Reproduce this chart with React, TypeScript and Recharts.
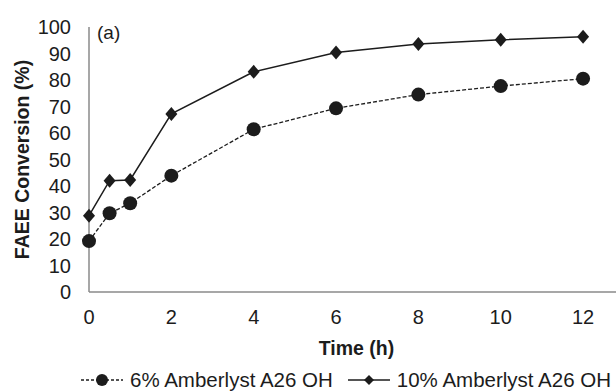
import { LineChart, Line, XAxis, YAxis, Legend, Customized } from "recharts";

const times = [0, 0.5, 1, 2, 4, 6, 8, 10, 12];
const amberlyst6 = [19.2, 29.7, 33.5, 43.9, 61.4, 69.3, 74.5, 77.7, 80.5];
const amberlyst10 = [28.8, 42, 42.3, 67.2, 83.1, 90.4, 93.6, 95.2, 96.3];
const xTicks = [0, 2, 4, 6, 8, 10, 12];
const yTicks = [0, 10, 20, 30, 40, 50, 60, 70, 80, 90, 100];
const seriesNames = ["6% Amberlyst A26 OH", "10% Amberlyst A26 OH"];

const data = times.map((t, i) => ({ t, a6: amberlyst6[i], a10: amberlyst10[i] }));

const INK = "#1c1c1c";
const FONT = "'Liberation Sans', Arial, sans-serif";

const Diamond = ({ cx, cy }: any) => {
  if (cx == null || cy == null) return null;
  const w = 6, h = 7;
  return <path d={`M${cx},${cy - h}L${cx + w},${cy}L${cx},${cy + h}L${cx - w},${cy}Z`} fill={INK} />;
};

// recharts hands its own r to custom dots, so the radius is fixed here
const Circle = ({ cx, cy }: any) => {
  if (cx == null || cy == null) return null;
  return <circle cx={cx} cy={cy} r={7} fill={INK} />;
};

const LegendContent = () => (
  <div style={{ display: "flex", alignItems: "center", fontFamily: FONT, fontSize: 20.5, color: INK, paddingLeft: 81, paddingTop: 6, whiteSpace: "nowrap" }}>
    <svg width={42} height={16}>
      <line x1={0} y1={8} x2={42} y2={8} stroke={INK} strokeWidth={1.3} strokeDasharray="3 2" />
      <circle cx={21} cy={8} r={6} fill={INK} />
    </svg>
    <span style={{ marginLeft: 7 }}>{seriesNames[0]}</span>
    <svg width={42} height={16} style={{ marginLeft: 15 }}>
      <line x1={0} y1={8} x2={42} y2={8} stroke={INK} strokeWidth={1.3} />
      <path d="M21,3L26,8L21,13L16,8Z" fill={INK} />
    </svg>
    <span style={{ marginLeft: 7 }}>{seriesNames[1]}</span>
  </div>
);

export default function App() {
  return (
    <div style={{ position: "absolute", left: 0, top: 0, background: "#fff" }}>
      <LineChart width={616} height={391} data={data} margin={{ top: 27, right: 0, left: 0, bottom: 0 }}>
        <XAxis
          type="number"
          dataKey="t"
          domain={[0, 12.8]}
          ticks={xTicks}
          interval={0}
          tickLine={false}
          tickMargin={12}
          axisLine={{ stroke: "#8a8a8a", strokeWidth: 1.5 }}
          tick={{ fill: INK, fontSize: 20, fontFamily: FONT }}
          height={70}
          label={{ value: "Time (h)", position: "insideBottom", offset: 7, dx: 4, style: { fill: INK, fontSize: 19.5, fontWeight: 700, fontFamily: FONT } }}
        />
        <YAxis
          domain={[0, 100]}
          ticks={yTicks}
          interval={0}
          width={89}
          tickLine={false}
          tickMargin={12}
          axisLine={{ stroke: "#8a8a8a", strokeWidth: 1.5 }}
          tick={{ fill: INK, fontSize: 20, fontFamily: FONT }}
          label={{ value: "FAEE Conversion (%)", angle: -90, position: "insideLeft", offset: 22, style: { textAnchor: "middle", fill: INK, fontSize: 19.5, fontWeight: 700, fontFamily: FONT } }}
        />
        <Legend verticalAlign="bottom" height={29} content={<LegendContent />} />
        <Line
          dataKey="a6"
          name={seriesNames[0]}
          stroke={INK}
          strokeWidth={1.3}
          strokeDasharray="4 2"
          dot={<Circle />}
          activeDot={false}
          isAnimationActive={false}
        />
        <Line
          dataKey="a10"
          name={seriesNames[1]}
          stroke={INK}
          strokeWidth={1.5}
          dot={<Diamond />}
          activeDot={false}
          isAnimationActive={false}
        />
        <Customized
          component={() => (
            <text x={97} y={39} fill={INK} fontSize={19} fontFamily={FONT}>
              (a)
            </text>
          )}
        />
      </LineChart>
    </div>
  );
}
